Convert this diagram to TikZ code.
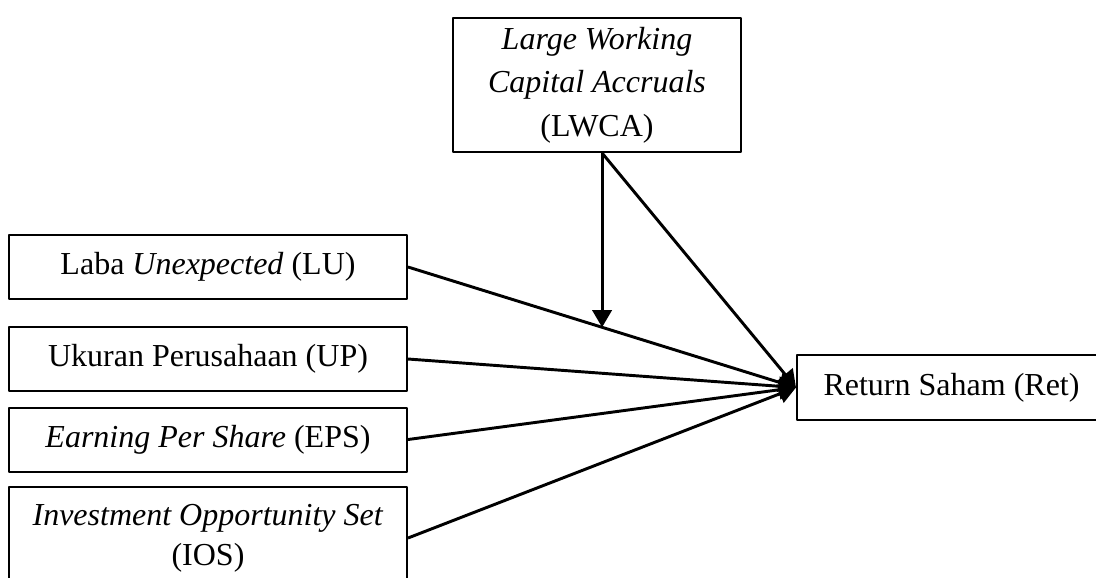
\documentclass[tikz,border=0pt]{standalone}
\usepackage{fontspec}
\setmainfont{Liberation Serif}
\usetikzlibrary{arrows.meta}

\begin{document}
\begin{tikzpicture}[x=0.375pt, y=-0.375pt, >={Triangle[width=7.2pt,length=6.4pt]}, line join=round, font=\fontsize{12}{16.3}\selectfont]
	\tikzset{
		kotak/.style={draw, line width=0.75pt, inner sep=0pt, align=center, minimum width=149.25pt, minimum height=24pt},
		panah/.style={->, line width=1.1pt}
	}
	\useasboundingbox (0,0) rectangle (1096,577);
	
	% ==========================================
	% VARIABEL MODERASI (ATAS)
	% ==========================================
	\node[kotak, minimum width=108pt, minimum height=50.25pt] (lwca) at (597,85)
	{\textit{Large Working}\\\textit{Capital Accruals}\\(LWCA)};
	
	% ==========================================
	% VARIABEL INDEPENDEN (KIRI)
	% ==========================================
	\node[kotak] (lu)  at (208,267)   {Laba \textit{Unexpected} (LU)};
	\node[kotak] (up)  at (208,359)   {Ukuran Perusahaan (UP)};
	\node[kotak] (eps) at (208,439.5) {\textit{Earning Per Share} (EPS)};
	\node[kotak, minimum height=38.25pt, font=\fontsize{12}{15}\selectfont] (ios) at (208,538)
	{\textit{Investment Opportunity Set}\\(IOS)};
	
	% ==========================================
	% VARIABEL DEPENDEN (KANAN)
	% ==========================================
	\node[kotak, minimum width=115.9pt, minimum height=24.4pt] (ret) at (951.5,387.5) {Return Saham (Ret)};
	
	% Panah dari variabel independen ke Ret
	\foreach \v in {lu, up, eps, ios} {
		\draw[panah] (\v.east) -- (ret.west);
	}
	
	% Panah moderasi LWCA
	\coordinate (atas) at ([xshift=1.9pt]lwca.south);
	\coordinate (atas2) at ([xshift=1.9pt]lwca.north);
	\coordinate (titik) at (intersection of lu.east--ret.west and atas--atas2);
	\draw[panah] (atas) -- (titik);
	\draw[panah] (atas) -- (ret.west);
\end{tikzpicture}
\end{document}
